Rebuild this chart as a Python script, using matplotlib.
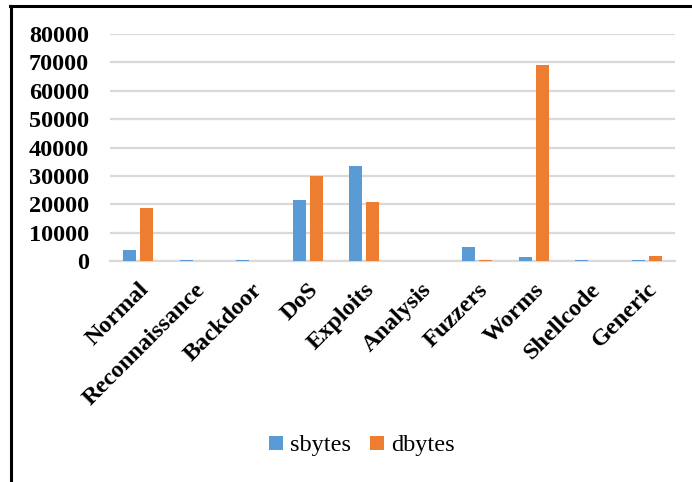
import numpy as np
import matplotlib
matplotlib.use("Agg")
import matplotlib.pyplot as plt
from matplotlib.lines import Line2D

categories = ["Normal", "Reconnaissance", "Backdoor", "DoS", "Exploits",
              "Analysis", "Fuzzers", "Worms", "Shellcode", "Generic"]
sbytes = [3900, 400, 400, 21500, 33500, 50, 5000, 1500, 400, 400]
dbytes = [18700, 100, 50, 30000, 20700, 50, 450, 68900, 50, 1600]
yticks = [0, 10000, 20000, 30000, 40000, 50000, 60000, 70000, 80000]

blue = "#5B9BD5"
orange = "#ED7D31"
grid = "#D9D9D9"

W, H = 692, 482
fig = plt.figure(figsize=(W / 100, H / 100), dpi=100)
ax = fig.add_axes([110 / W, 1 - 261 / H, (675 - 110) / W, (261 - 34) / H])

x = np.arange(len(categories))
bw = 0.23
gap = 0.035
ax.bar(x - bw / 2 - gap, sbytes, bw, color=blue, label="sbytes", zorder=3)
ax.bar(x + bw / 2 + gap, dbytes, bw, color=orange, label="dbytes", zorder=3)

ax.set_xlim(-0.5, len(categories) - 0.5)
ax.set_ylim(0, 80000)
ax.set_yticks(yticks)
ax.yaxis.grid(True, color=grid, linewidth=1.6, zorder=0)
ax.set_axisbelow(True)
for side in ["top", "right", "left"]:
    ax.spines[side].set_visible(False)
ax.spines["bottom"].set_color(grid)
ax.spines["bottom"].set_linewidth(1.6)
ax.tick_params(axis="both", length=0)
ax.tick_params(axis="y", pad=15)

label_font = dict(family="Liberation Serif", weight="bold", size=17.5)
ax.set_yticklabels([str(v) for v in yticks], **label_font)
ax.set_xticks(x)
ax.set_xticklabels(categories, rotation=45, ha="right", rotation_mode="anchor",
                   **label_font)
ax.tick_params(axis="x", pad=13)

leg = fig.legend(loc="center", bbox_to_anchor=(362 / W, 1 - 446 / H), ncol=2,
                 frameon=False, prop=dict(family="Liberation Serif", size=17.5),
                 handlelength=0.55, handleheight=0.55, handletextpad=0.3,
                 columnspacing=0.8)

# black border around the chart area (cut off at right and bottom)
fig.add_artist(Line2D([10 / W, 1.0], [1 - 5.5 / H, 1 - 5.5 / H],
                      transform=fig.transFigure, color="black", linewidth=2.2))
fig.add_artist(Line2D([11 / W, 11 / W], [0.0, 1 - 5.5 / H],
                      transform=fig.transFigure, color="black", linewidth=2.2))

fig.savefig("out.png", dpi=100)
